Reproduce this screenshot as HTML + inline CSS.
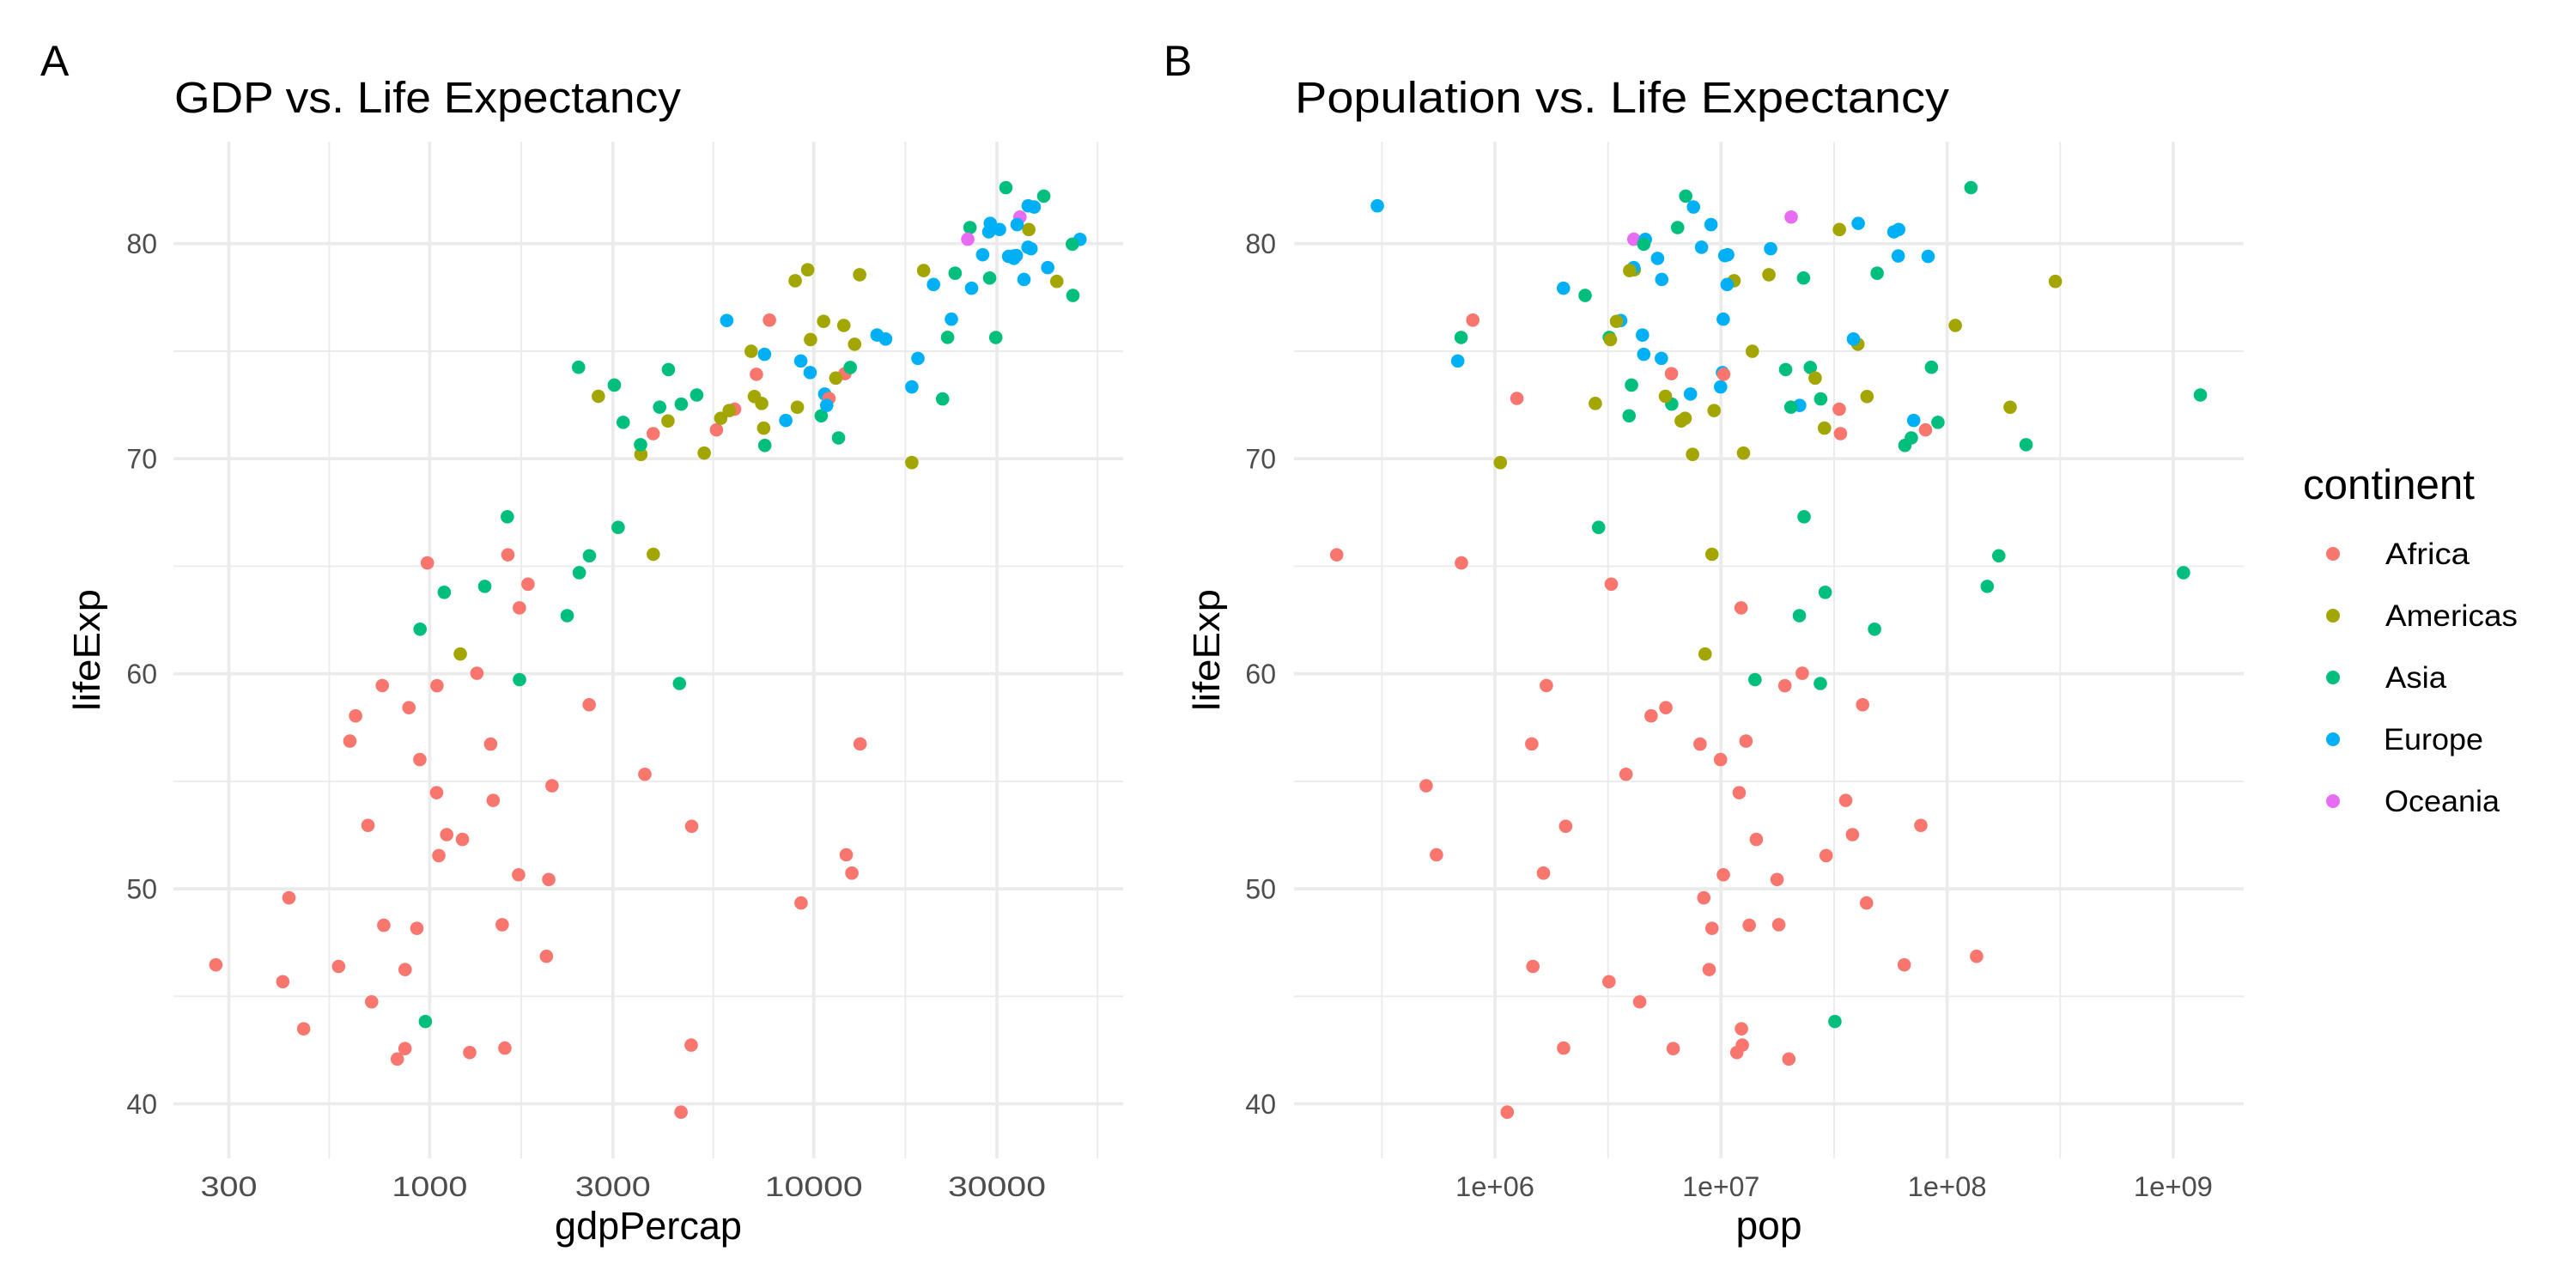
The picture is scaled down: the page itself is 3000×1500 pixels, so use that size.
<!DOCTYPE html>
<html>
<head>
<meta charset="utf-8">
<style>
html,body{margin:0;padding:0;background:#fff;}
svg{display:block;}
text{font-family:"Liberation Sans",sans-serif;}
</style>
</head>
<body>
<svg id="s" width="3000" height="1500" viewBox="0 0 3000 1500" xmlns="http://www.w3.org/2000/svg">
<rect width="3000" height="1500" fill="#ffffff"/>
<g stroke="#EBEBEB" stroke-width="1.9" fill="none">
  <line x1="202" x2="1308" y1="1160.3" y2="1160.3"/>
  <line x1="202" x2="1308" y1="909.9" y2="909.9"/>
  <line x1="202" x2="1308" y1="659.4" y2="659.4"/>
  <line x1="202" x2="1308" y1="409.0" y2="409.0"/>
  <line x1="383.5" x2="383.5" y1="165" y2="1349"/>
  <line x1="607.1" x2="607.1" y1="165" y2="1349"/>
  <line x1="830.7" x2="830.7" y1="165" y2="1349"/>
  <line x1="1054.3" x2="1054.3" y1="165" y2="1349"/>
  <line x1="1278.2" x2="1278.2" y1="165" y2="1349"/>
  <line x1="1507" x2="2613" y1="1160.3" y2="1160.3"/>
  <line x1="1507" x2="2613" y1="909.9" y2="909.9"/>
  <line x1="1507" x2="2613" y1="659.4" y2="659.4"/>
  <line x1="1507" x2="2613" y1="409.0" y2="409.0"/>
  <line x1="1609.4" x2="1609.4" y1="165" y2="1349"/>
  <line x1="1872.7" x2="1872.7" y1="165" y2="1349"/>
  <line x1="2136.0" x2="2136.0" y1="165" y2="1349"/>
  <line x1="2399.3" x2="2399.3" y1="165" y2="1349"/>
</g>
<g stroke="#EBEBEB" stroke-width="3.7" fill="none">
  <line x1="202" x2="1308" y1="1285.5" y2="1285.5"/>
  <line x1="202" x2="1308" y1="1035.1" y2="1035.1"/>
  <line x1="202" x2="1308" y1="784.6" y2="784.6"/>
  <line x1="202" x2="1308" y1="534.2" y2="534.2"/>
  <line x1="202" x2="1308" y1="283.7" y2="283.7"/>
  <line x1="266.5" x2="266.5" y1="165" y2="1349"/>
  <line x1="500.4" x2="500.4" y1="165" y2="1349"/>
  <line x1="713.8" x2="713.8" y1="165" y2="1349"/>
  <line x1="947.7" x2="947.7" y1="165" y2="1349"/>
  <line x1="1161.0" x2="1161.0" y1="165" y2="1349"/>
  <line x1="1507" x2="2613" y1="1285.5" y2="1285.5"/>
  <line x1="1507" x2="2613" y1="1035.1" y2="1035.1"/>
  <line x1="1507" x2="2613" y1="784.6" y2="784.6"/>
  <line x1="1507" x2="2613" y1="534.2" y2="534.2"/>
  <line x1="1507" x2="2613" y1="283.7" y2="283.7"/>
  <line x1="1741.0" x2="1741.0" y1="165" y2="1349"/>
  <line x1="2004.3" x2="2004.3" y1="165" y2="1349"/>
  <line x1="2267.6" x2="2267.6" y1="165" y2="1349"/>
  <line x1="2530.9" x2="2530.9" y1="165" y2="1349"/>
</g>

<g id="ptsA"></g>
<g id="ptsB"></g>

<text x="47" y="88" font-size="50" fill="#000">A</text>
<text x="1355" y="88" font-size="50" fill="#000">B</text>

<text x="203" y="131" font-size="51" fill="#000" textLength="590" lengthAdjust="spacingAndGlyphs">GDP vs. Life Expectancy</text>
<text x="1508" y="131" font-size="51" fill="#000" textLength="762" lengthAdjust="spacingAndGlyphs">Population vs. Life Expectancy</text>

<g font-size="32" fill="#4D4D4D" text-anchor="end">
  <text x="183" y="1297">40</text>
  <text x="183" y="1046.6">50</text>
  <text x="183" y="796.1">60</text>
  <text x="183" y="545.7">70</text>
  <text x="183" y="295.2">80</text>
  <text x="1486" y="1297">40</text>
  <text x="1486" y="1046.6">50</text>
  <text x="1486" y="796.1">60</text>
  <text x="1486" y="545.7">70</text>
  <text x="1486" y="295.2">80</text>
</g>
<g font-size="32" fill="#4D4D4D" text-anchor="middle">
  <text x="266.5" y="1393" textLength="66" lengthAdjust="spacingAndGlyphs">300</text>
  <text x="500.4" y="1393" textLength="88" lengthAdjust="spacingAndGlyphs">1000</text>
  <text x="713.8" y="1393" textLength="88" lengthAdjust="spacingAndGlyphs">3000</text>
  <text x="947.7" y="1393" textLength="114" lengthAdjust="spacingAndGlyphs">10000</text>
  <text x="1161" y="1393" textLength="114" lengthAdjust="spacingAndGlyphs">30000</text>
  <text x="1741" y="1393" textLength="92" lengthAdjust="spacingAndGlyphs">1e+06</text>
  <text x="2004.3" y="1393" textLength="90" lengthAdjust="spacingAndGlyphs">1e+07</text>
  <text x="2267.6" y="1393" textLength="92" lengthAdjust="spacingAndGlyphs">1e+08</text>
  <text x="2530.9" y="1393" textLength="92" lengthAdjust="spacingAndGlyphs">1e+09</text>
</g>

<text x="755" y="1443" font-size="45" fill="#000" text-anchor="middle" textLength="218" lengthAdjust="spacingAndGlyphs">gdpPercap</text>
<text x="2060" y="1443" font-size="46" fill="#000" text-anchor="middle" textLength="77" lengthAdjust="spacingAndGlyphs">pop</text>
<text transform="translate(116,757) rotate(-90)" font-size="44" fill="#000" text-anchor="middle" textLength="142" lengthAdjust="spacingAndGlyphs">lifeExp</text>
<text transform="translate(1420,757) rotate(-90)" font-size="44" fill="#000" text-anchor="middle" textLength="142" lengthAdjust="spacingAndGlyphs">lifeExp</text>

<text x="2682" y="581" font-size="49" fill="#000" textLength="200" lengthAdjust="spacingAndGlyphs">continent</text>
<circle cx="2717" cy="645" r="8" fill="#F8766D"/>
<circle cx="2717" cy="717" r="8" fill="#A3A500"/>
<circle cx="2717" cy="789" r="8" fill="#00BF7D"/>
<circle cx="2717" cy="861" r="8" fill="#00B0F6"/>
<circle cx="2717" cy="933" r="8" fill="#E76BF3"/>
<g font-size="35" fill="#000">
  <text x="2778" y="657" textLength="98" lengthAdjust="spacingAndGlyphs">Africa</text>
  <text x="2778" y="729" textLength="154" lengthAdjust="spacingAndGlyphs">Americas</text>
  <text x="2778" y="801" textLength="71" lengthAdjust="spacingAndGlyphs">Asia</text>
  <text x="2776" y="873" textLength="116" lengthAdjust="spacingAndGlyphs">Europe</text>
  <text x="2777" y="945" textLength="134" lengthAdjust="spacingAndGlyphs">Oceania</text>
</g>
</svg>
<script>
(function(){
var C=["#F8766D","#A3A500","#00BF7D","#00B0F6","#E76BF3"];
var D=[
[2,43.828,31889923,974.58],[3,76.423,3600523,5937.03],[0,72.301,33333216,6223.37],[0,42.731,12420476,4797.23],
[1,75.32,40301927,12779.38],[4,81.235,20434176,34435.37],[3,79.829,8199783,36126.49],[2,75.635,708573,29796.05],
[2,64.062,150448339,1391.25],[3,79.441,10392226,33692.61],[0,56.728,8078314,1441.28],[1,65.554,9119152,3822.14],
[3,74.852,4552198,7446.30],[0,50.728,1639131,12569.85],[1,72.39,190010647,9065.80],[3,73.005,7322858,10680.79],
[0,52.295,14326203,1217.03],[0,49.58,8390505,430.07],[2,59.723,14131858,1713.78],[0,50.43,17696293,2042.10],
[1,80.653,33390141,36319.24],[0,44.741,4369038,706.02],[0,50.651,10238807,1704.06],[1,78.553,16284741,13171.64],
[2,72.961,1318683096,4959.11],[1,72.889,44227550,7006.58],[0,65.152,710960,986.15],[0,46.462,64606759,277.55],
[0,55.322,3800610,3632.56],[1,78.782,4133884,9645.06],[0,48.328,18013409,1544.75],[3,75.748,4493312,14619.22],
[1,78.273,11416987,8948.10],[3,76.486,10228744,22833.31],[3,78.332,5468120,35278.42],[0,54.791,496374,2082.48],
[1,72.235,9319622,6025.37],[1,74.994,13755680,6873.26],[0,71.338,80264543,5581.18],[1,71.878,6939688,5728.35],
[0,51.579,551201,12154.09],[0,58.04,4906585,641.37],[0,52.947,76511887,690.81],[3,79.313,5238460,33207.08],
[3,80.657,61083916,30470.02],[0,56.735,1454867,13206.48],[0,59.448,1688359,752.75],[3,79.406,82400996,32170.37],
[0,60.022,22873338,1327.61],[3,79.483,10706290,27538.41],[1,70.259,12572928,5186.05],[0,56.007,9947814,942.65],
[0,46.388,1472041,579.23],[1,60.916,8502814,1201.64],[1,70.198,7483763,3548.33],[2,82.208,6980412,39724.98],
[3,73.338,9956108,18008.94],[3,81.757,301931,36180.79],[2,64.698,1110396331,2452.21],[2,70.65,223547000,3540.65],
[2,70.964,69453570,11605.71],[2,59.545,27499638,4471.06],[3,78.885,4109086,40676.00],[2,80.745,6426679,25523.28],
[3,80.546,58147733,28569.72],[1,72.567,2780132,7320.88],[2,82.603,127467972,31656.07],[2,72.535,6053193,4519.46],
[0,54.11,35610177,1463.25],[2,67.297,23301725,1593.07],[2,78.623,49044790,23348.14],[2,77.588,2505559,47306.99],
[2,71.993,3921278,10461.06],[0,42.592,2012649,1569.33],[0,45.678,3193942,414.51],[0,73.952,6036914,12057.50],
[0,59.443,19167654,1044.77],[0,48.303,13327079,759.35],[2,74.241,24821286,12451.66],[0,54.467,12031795,1042.58],
[0,64.164,3270065,1803.15],[0,72.801,1250882,10956.99],[1,76.195,108700891,11977.57],[2,66.803,2874127,3095.77],
[3,74.543,684736,9253.90],[0,71.164,33757175,3820.18],[0,42.082,19951656,823.69],[2,62.069,47761980,944.00],
[0,52.906,2055080,4811.06],[2,63.785,28901790,1091.36],[3,79.762,16570613,36797.93],[4,80.204,4115771,25185.01],
[1,72.899,5675356,2749.32],[0,56.867,12894865,619.68],[0,46.859,135031164,2013.98],[3,80.196,4627926,49357.19],
[2,75.64,3204897,22316.19],[2,65.483,169270617,2605.95],[1,75.537,3242173,9809.19],[1,71.752,6667147,4172.84],
[1,71.421,28674757,7408.91],[2,71.688,91077287,3190.48],[3,75.563,38518241,15389.92],[3,78.098,10642836,20509.65],
[1,78.746,3942491,19328.71],[0,76.442,798094,7670.12],[3,72.476,22276056,10808.48],[0,46.242,8860588,863.09],
[0,65.528,199579,1598.44],[2,72.777,27601038,21654.83],[0,63.062,12267493,1712.47],[3,74.002,10150265,9786.53],
[0,42.568,6144562,862.54],[2,79.972,4553009,47143.18],[3,74.663,5447502,18678.31],[3,77.926,2009245,25768.26],
[0,48.159,9118773,926.14],[0,49.339,43997828,9269.66],[3,80.941,40448191,28821.06],[2,72.396,20378239,3970.10],
[0,58.556,42292929,2602.39],[0,39.613,1133066,4513.48],[3,80.884,9031088,33859.75],[3,81.701,7554661,37506.42],
[2,74.143,19314747,4184.55],[2,78.4,23174294,28718.28],[0,52.517,38139640,1107.48],[2,70.616,65068149,7458.40],
[0,58.42,5701579,882.97],[1,69.819,1056608,18008.51],[0,73.923,10276158,7092.92],[3,71.777,71158647,8458.28],
[0,51.542,29170398,1056.38],[3,79.425,60776238,33203.26],[1,78.242,301139947,42951.65],[1,76.384,3447496,10611.46],
[1,73.747,26084662,11415.81],[2,74.249,85262356,2441.58],[2,73.422,4018332,3025.35],[2,62.698,22211743,2280.77],
[0,42.384,11746035,1271.21],[0,43.487,12311143,469.71]
];
var NS="http://www.w3.org/2000/svg";
var gA=document.getElementById("ptsA"), gB=document.getElementById("ptsB");
function L(v){return Math.log(v)/Math.LN10;}
function Y(l){return 283.7+(80-l)*25.045;}
for(var i=0;i<D.length;i++){
  var d=D[i], y=Y(d[1]);
  var a=document.createElementNS(NS,"circle");
  a.setAttribute("cx",(500.4+447.25*(L(d[3])-3)).toFixed(2));
  a.setAttribute("cy",y.toFixed(2));
  a.setAttribute("r","7.8");
  a.setAttribute("fill",C[d[0]]);
  gA.appendChild(a);
  var b=document.createElementNS(NS,"circle");
  b.setAttribute("cx",(1741+263.3*(L(d[2])-6)).toFixed(2));
  b.setAttribute("cy",y.toFixed(2));
  b.setAttribute("r","7.8");
  b.setAttribute("fill",C[d[0]]);
  gB.appendChild(b);
}
})();
</script>
</body>
</html>
